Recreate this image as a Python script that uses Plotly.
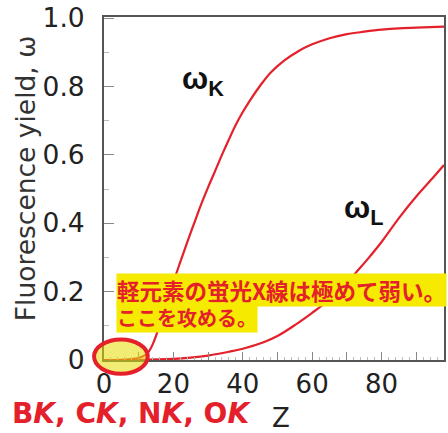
import plotly.graph_objects as go

# ---- data ----
z_k = [0, 5, 8, 10, 12, 13, 14, 16, 18, 20, 22, 24, 26, 28, 30, 32, 34, 36, 38, 40,
       42, 45, 48, 52, 56, 60, 65, 70, 75, 80, 85, 90, 98]
omega_k = [0.0, 0.0008, 0.003, 0.006, 0.015, 0.026, 0.045, 0.10, 0.165, 0.228, 0.287,
           0.345, 0.40, 0.455, 0.505, 0.552, 0.60, 0.645, 0.688, 0.725, 0.758, 0.802,
           0.84, 0.876, 0.903, 0.923, 0.941, 0.953, 0.96, 0.966, 0.97, 0.972, 0.975]

z_l = [0, 10, 20, 25, 30, 36, 40, 46, 50, 55, 60, 65, 70, 73, 76, 80, 85, 90, 95, 98]
omega_l = [0.0, 0.0, 0.003, 0.007, 0.013, 0.024, 0.033, 0.052, 0.07, 0.102, 0.138,
           0.177, 0.225, 0.26, 0.295, 0.345, 0.415, 0.478, 0.535, 0.57]

x_tickvals = [0, 10, 20, 30, 40, 50, 60, 70, 80, 90]
x_ticktext = ["0", "", "20", "", "40", "", "60", "", "80", ""]
y_tickvals = [0, 0.2, 0.4, 0.6, 0.8, 1.0]
y_ticktext = ["0", "0.2", "0.4", "0.6", "0.8", "1.0"]

note_line1 = "軽元素の蛍光X線は極めて弱い。"
note_line2 = "ここを攻める。"
bottom_label = "<b>B<i>K</i>, C<i>K</i>, N<i>K</i>, O<i>K</i></b>"

RED = "#e4202b"
W, H = 448, 433
L, R, T, B = 104, 2, 10, 73
SANS = "DejaVu Sans, Liberation Sans, sans-serif"


def px(x):
    return (x - L) / (W - L - R)


def py(y):
    return (H - B - y) / (H - T - B)


fig = go.Figure()
fig.add_trace(go.Scatter(x=z_k, y=omega_k, mode="lines", line=dict(color=RED, width=2.2, shape="spline"),
                         showlegend=False, hoverinfo="skip"))
fig.add_trace(go.Scatter(x=z_l, y=omega_l, mode="lines", line=dict(color=RED, width=2.2, shape="spline"),
                         showlegend=False, hoverinfo="skip"))

tickfont = dict(family=SANS, size=26, color="#222")

fig.update_layout(
    width=W, height=H,
    margin=dict(l=L, r=R, t=T, b=B),
    paper_bgcolor="white", plot_bgcolor="white",
    xaxis=dict(range=[0, 98], tickvals=x_tickvals, ticktext=x_ticktext,
               ticks="inside", ticklen=8, tickwidth=1, tickcolor="#888",
               minor=dict(dtick=2, ticks="inside", ticklen=3, tickcolor="#bbb"),
               showgrid=False, zeroline=False, showline=True, linecolor="#555", linewidth=2,
               mirror=True, tickfont=tickfont, ticklabelstandoff=0, ticklabeloverflow="allow"),
    yaxis=dict(range=[0, 1.003], tickvals=y_tickvals, ticktext=y_ticktext,
               ticks="inside", ticklen=10, tickwidth=1, tickcolor="#888",
               minor=dict(dtick=0.1, ticks="inside", ticklen=5, tickcolor="#bbb"),
               showgrid=False, zeroline=False, showline=True, linecolor="#555", linewidth=2,
               mirror=True, tickfont=dict(family=SANS, size=26.5, color="#222"),
               ticklabelstandoff=12, ticklabeloverflow="allow"),
)

# axis titles
fig.add_annotation(xref="paper", yref="paper", x=px(25), y=py(174), text="Fluorescence yield, ω",
                   textangle=-90, showarrow=False, xanchor="center", yanchor="middle",
                   font=dict(family=SANS, size=26.5, color="#333"))
fig.add_annotation(xref="paper", yref="paper", x=px(282), y=py(419), text="Z",
                   showarrow=False, xanchor="center", yanchor="middle",
                   font=dict(family=SANS, size=26, color="#222"))

# curve labels
fig.add_annotation(x=28.6, y=0.815, text="<b>ω<sub>K</sub></b>", showarrow=False,
                   font=dict(family="Liberation Sans, Arial, sans-serif", size=31, color="#111"))
fig.add_annotation(x=74.9, y=0.44, text="<b>ω<sub>L</sub></b>", showarrow=False,
                   font=dict(family="Liberation Sans, Arial, sans-serif", size=31, color="#111"))

# yellow note boxes
fig.add_annotation(xref="paper", yref="paper", x=px(116), y=py(289), text="<b>" + note_line1 + "</b>",
                   showarrow=False, xanchor="left", yanchor="middle", bgcolor="#f5ea00",
                   borderpad=0, font=dict(family="Noto Sans CJK JP", size=22.5, color=RED))
fig.add_annotation(xref="paper", yref="paper", x=px(116), y=py(317), text="<b>" + note_line2 + "</b>",
                   showarrow=False, xanchor="left", yanchor="middle", bgcolor="#f5ea00",
                   borderpad=0, font=dict(family="Noto Sans CJK JP", size=20, color=RED))

# highlight ellipse
fig.add_shape(type="circle", xref="paper", yref="paper", x0=px(94), x1=px(148), y0=py(374), y1=py(339),
              line=dict(color=RED, width=4), fillcolor="rgba(230,220,0,0.55)", layer="above")

# bottom label
fig.add_annotation(xref="paper", yref="paper", x=px(9), y=py(415), text=bottom_label,
                   showarrow=False, xanchor="left", yanchor="middle",
                   font=dict(family=SANS, size=28, color=RED))

fig.write_html("out.html", config={"displayModeBar": False},
               post_script="document.body.style.margin='0';document.body.style.overflow='hidden';")
